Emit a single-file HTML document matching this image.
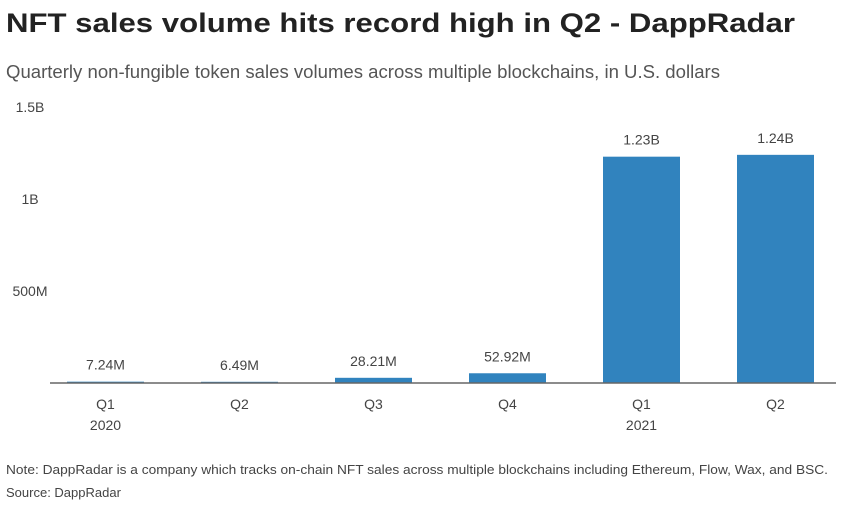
<!DOCTYPE html>
<html><head><meta charset="utf-8"><style>
body{margin:0;background:#fff;font-family:"Liberation Sans",sans-serif;}
svg text{font-family:"Liberation Sans",sans-serif;}
</style></head><body>
<svg width="850" height="505">
<text x="6" y="32" font-size="27" font-weight="bold" fill="#222" textLength="789" lengthAdjust="spacingAndGlyphs">NFT sales volume hits record high in Q2 - DappRadar</text>
<text x="6" y="78" font-size="18" fill="#555" textLength="714" lengthAdjust="spacingAndGlyphs">Quarterly non-fungible token sales volumes across multiple blockchains, in U.S. dollars</text>
<g id="yaxis"></g><g id="bars"></g>
<line x1="50" x2="836" y1="383" y2="383" stroke="#666" stroke-width="1.5"/>
<text x="6" y="474" font-size="13" fill="#444" textLength="822" lengthAdjust="spacingAndGlyphs">Note: DappRadar is a company which tracks on-chain NFT sales across multiple blockchains including Ethereum, Flow, Wax, and BSC.</text>
<text x="6" y="497" font-size="13" fill="#444">Source: DappRadar</text>
</svg>
<script>
const quarters=["Q1","Q2","Q3","Q4","Q1","Q2"];
const years=["2020","","","","2021",""];
const values=[7.24e6,6.49e6,28.21e6,52.92e6,1.23e9,1.24e9];
const valueLabels=["7.24M","6.49M","28.21M","52.92M","1.23B","1.24B"];
const yTicks=[5e8,1e9,1.5e9];
const yTickLabels=["500M","1B","1.5B"];
const NS="http://www.w3.org/2000/svg";
const y=v=>383-v/1.5e9*276;
const xc=i=>105.5+i*134;
function mk(t,a,p,txt){const e=document.createElementNS(NS,t);for(const k in a)e.setAttribute(k,a[k]);if(txt!==undefined)e.textContent=txt;p.appendChild(e);return e;}
const ya=document.getElementById('yaxis'),bg=document.getElementById('bars');
yTicks.forEach((v,i)=>{
 const t=mk('text',{x:30,y:y(v)+5,'font-size':14,fill:'#444','text-anchor':'middle'},ya,yTickLabels[i]);
 
 
});
values.forEach((v,i)=>{
 const r=mk('rect',{x:xc(i)-38.5,y:y(v),width:77,height:383-y(v),fill:'#3183be'},bg);
 
 
 const l=mk('text',{x:xc(i),y:y(v)-12,'font-size':14,fill:'#444','text-anchor':'middle'},bg,valueLabels[i]);
 
 
 const q=mk('text',{x:xc(i),y:409,'font-size':14,fill:'#444','text-anchor':'middle'},bg,quarters[i]);
 
 
 if(years[i]){const yr=mk('text',{x:xc(i),y:430,'font-size':14,fill:'#444','text-anchor':'middle'},bg,years[i]);
 
 }
});
</script>
</body></html>
